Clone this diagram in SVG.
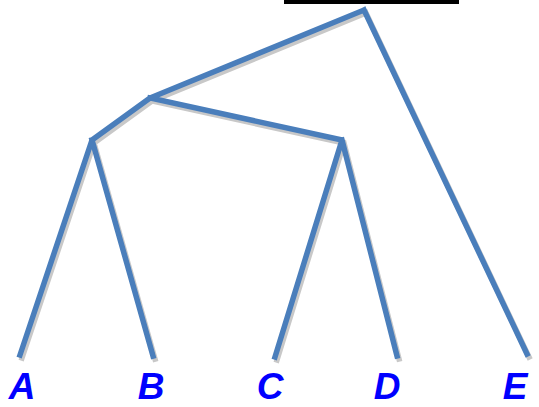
<svg xmlns="http://www.w3.org/2000/svg" width="539" height="407" viewBox="0 0 539 407">
<style>
.sh{fill:none;stroke:#c8c8c8;stroke-width:5.5;stroke-linejoin:round;stroke-linecap:square}
.br{fill:none;stroke:#4a7ebb;stroke-width:5.5;stroke-linejoin:round;stroke-linecap:square}
.lb{font-family:"Liberation Sans",Arial,sans-serif;font-weight:bold;font-style:italic;font-size:37px;fill:#0000ff;text-anchor:middle}
</style>
<rect x="284" y="0" width="175" height="4" fill="#000"/>
<g id="connectors">
<g transform="translate(2,3)">
<path class="sh" d="M364,10 L150,98 L92,140 L20,355 M92,140 L153,356 M150,98 L342,140 L275,357 M342,140 L397,356 M364,10 L527,354"/>
</g>
<path class="br" d="M364,10 L150,98 L92,140 L20,355 M92,140 L153,356 M150,98 L342,140 L275,357 M342,140 L397,356 M364,10 L527,354"/>
</g>
<g id="A"><text class="lb" x="22" y="399">A</text></g>
<g id="B"><text class="lb" x="151" y="399">B</text></g>
<g id="C"><text class="lb" x="270" y="399">C</text></g>
<g id="D"><text class="lb" x="387" y="399">D</text></g>
<g id="E"><text class="lb" x="515" y="399">E</text></g>
</svg>
